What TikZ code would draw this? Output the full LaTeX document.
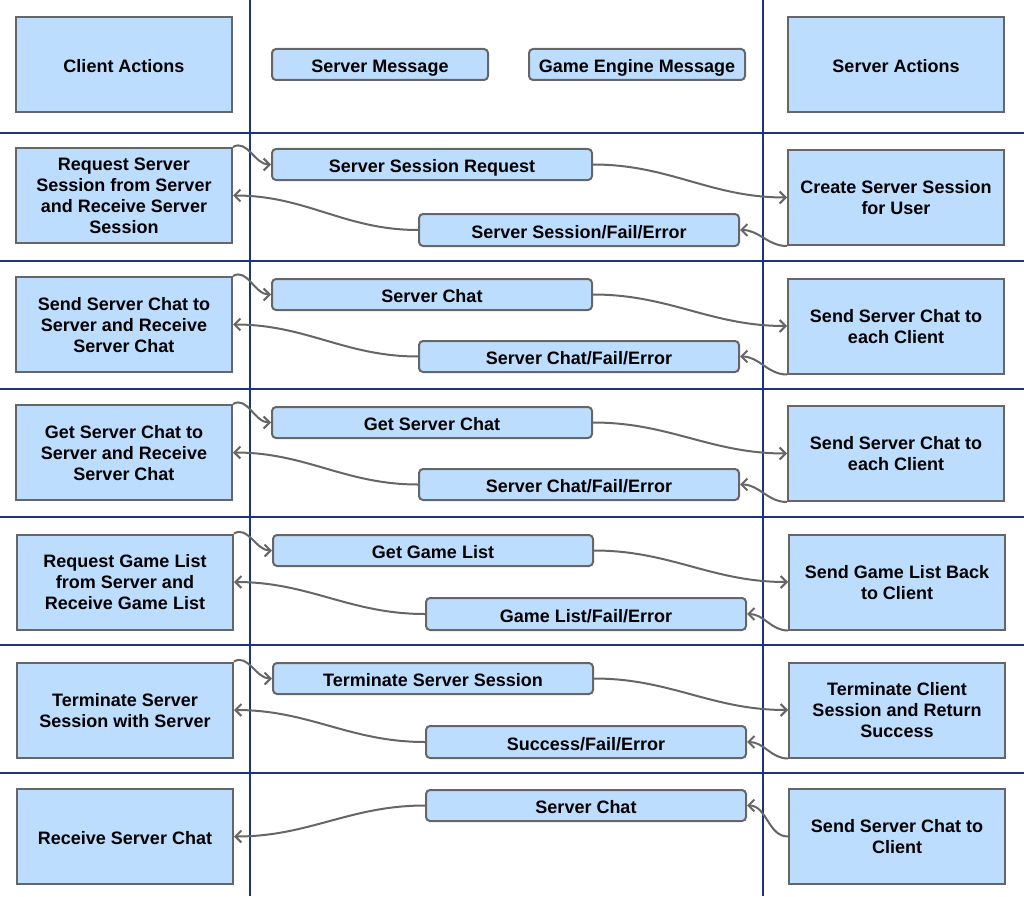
\documentclass[tikz,border=0pt]{standalone}
\usepackage{fontspec}
\setmainfont{Liberation Sans}
\usetikzlibrary{arrows.meta}
\definecolor{boxfill}{RGB}{189,221,255}
\definecolor{boxline}{RGB}{102,102,102}
\definecolor{laneline}{RGB}{30,50,130}
\newcommand{\mlines}[1]{\raisebox{0pt}[\dimexpr\height+5pt\relax][\depth]{\begin{tabular}{@{}c@{}}#1\end{tabular}}}
\tikzset{
  base/.style={draw=boxline, fill=boxfill, line width=2pt, inner sep=1pt,
    font=\fontsize{18}{21}\selectfont\bfseries, align=center,
    execute at begin node={\rule{0pt}{20pt}}, execute at end node={\rule[-4pt]{0pt}{4pt}}},
  actbox/.style={base, minimum width=216pt, minimum height=95pt},
  msgbox/.style={base, rounded corners=4pt, minimum width=320pt, minimum height=31pt},
  hdrmsg/.style={base, rounded corners=4pt, minimum width=216pt, minimum height=31pt},
  lane/.style={draw=laneline, line width=2pt},
  conn/.style={draw=boxline, line width=2pt, -{Straight Barb[length=6pt,width=12pt,line width=2pt]}}
}
\begin{document}
\begin{tikzpicture}[x=1pt,y=-1pt]
\useasboundingbox (0,0) rectangle (1024,896);
% lanes
\coordinate (vt1) at (250,0); \coordinate (vb1) at (250,896);
\coordinate (vt2) at (763,0); \coordinate (vb2) at (763,896);
\draw[lane] (vt1) -- (vb1);
\draw[lane] (vt2) -- (vb2);
\foreach \y/\n in {133/a,261/b,389/c,517/d,645/e,773/f}{
  \coordinate (hl\n) at (0,\y); \coordinate (hr\n) at (1024,\y);
  \draw[lane] (hl\n) -- (hr\n);
}
% header
\node[actbox] (c0) at (124,64.5) {Client Actions};
\node[hdrmsg] (h1) at (380,64.5) {Server Message};
\node[hdrmsg] (h2) at (637,64.5) {Game Engine Message};
\node[actbox] (s0) at (896,64.5) {Server Actions};
% row 1
\node[actbox] (c1) at (124,195.5) {\mlines{Request Server\\Session from Server\\and Receive Server\\Session}};
\node[msgbox] (m1a) at (432,164.5) {Server Session Request};
\node[msgbox, minimum height=32pt] (m1b) at (579,230) {Server Session/Fail/Error};
\node[actbox] (s1) at (896,197.5) {\mlines{Create Server Session\\for User}};
% row 2
\node[actbox] (c2) at (124,324.5) {\mlines{Send Server Chat to\\Server and Receive\\Server Chat}};
\node[msgbox] (m2a) at (432,294.5) {Server Chat};
\node[msgbox] (m2b) at (579,356.5) {Server Chat/Fail/Error};
\node[actbox] (s2) at (896,326) {\mlines{Send Server Chat to\\each Client}};
% row 3
\node[actbox] (c3) at (124,452.5) {\mlines{Get Server Chat to\\Server and Receive\\Server Chat}};
\node[msgbox] (m3a) at (432,422.5) {Get Server Chat};
\node[msgbox] (m3b) at (579,484.5) {Server Chat/Fail/Error};
\node[actbox] (s3) at (896,453.5) {\mlines{Send Server Chat to\\each Client}};
% row 4
\node[actbox] (c4) at (125,582) {\mlines{Request Game List\\from Server and\\Receive Game List}};
\node[msgbox] (m4a) at (433,550.5) {Get Game List};
\node[msgbox, minimum height=32pt] (m4b) at (586,614) {Game List/Fail/Error};
\node[actbox] (s4) at (897,582) {\mlines{Send Game List Back\\to Client}};
% row 5
\node[actbox] (c5) at (125,710) {\mlines{Terminate Server\\Session with Server}};
\node[msgbox] (m5a) at (433,678.5) {Terminate Server Session};
\node[msgbox, minimum height=32pt] (m5b) at (586,742) {Success/Fail/Error};
\node[actbox] (s5) at (897,710) {\mlines{Terminate Client\\Session and Return\\Success}};
% row 6
\node[actbox] (c6) at (125,836.5) {Receive Server Chat};
\node[msgbox] (m6) at (586,805.5) {Server Chat};
\node[actbox] (s6) at (897,836.5) {\mlines{Send Server Chat to\\Client}};
% connectors
\foreach \i in {1,...,5}{
  \draw[conn] (c\i.north east) to[out=30,in=180] (m\i a.west);
  \draw[conn] (m\i a.east) to[out=0,in=180] (s\i.west);
  \draw[conn] (s\i.south west) to[out=180,in=0] (m\i b.east);
  \draw[conn] (m\i b.west) to[out=180,in=0] (c\i.east);
}
\draw[conn] (s6.west) to[out=180,in=0] (m6.east);
\draw[conn] (m6.west) to[out=180,in=0] (c6.east);
\end{tikzpicture}
\end{document}
